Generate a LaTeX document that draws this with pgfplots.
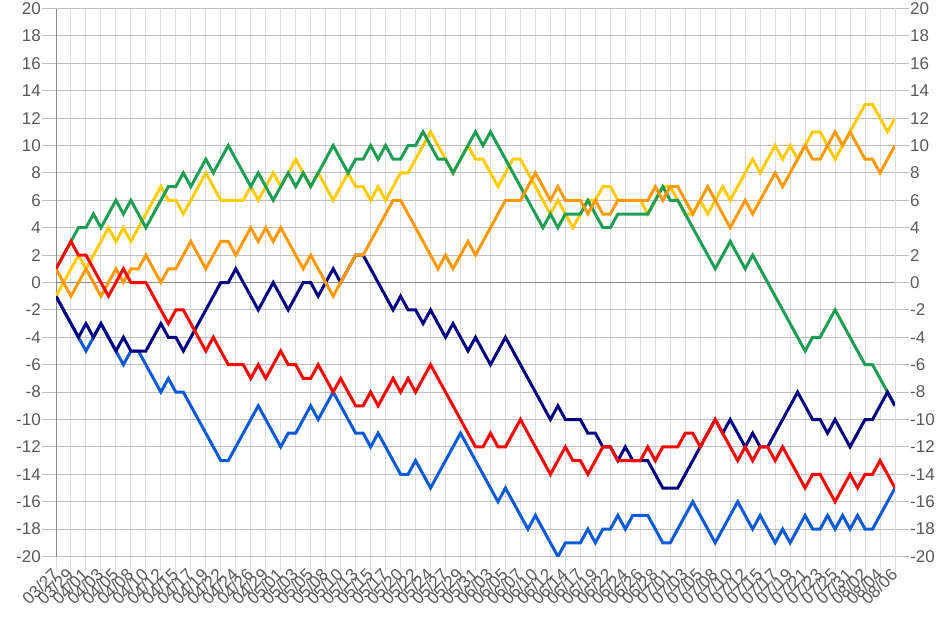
\documentclass[border=0pt]{standalone}
\usepackage{pgfplots}
\pgfplotsset{compat=1.18}
\usepackage{pgfplotstable}
\usepackage{fontspec}
\setmainfont{Liberation Sans}
\definecolor{cnavy}{HTML}{000080}
\definecolor{cred}{HTML}{FF0000}
\definecolor{cblue}{HTML}{0A5AD8}
\definecolor{cyellow}{HTML}{FFCC00}
\definecolor{corange}{HTML}{FF9900}
\definecolor{cgreen}{HTML}{1E9E55}
\definecolor{labgray}{HTML}{595959}
\definecolor{hgrid}{HTML}{BFBFBF}
\definecolor{vgrid}{HTML}{DDDDDD}
\definecolor{zgrid}{HTML}{8C8C8C}

\pgfplotstableread{
i navy red blue yellow orange green
0 -1 1 -1 -1 1 1
1 -2 2 -2 0 0 2
2 -3 3 -3 1 -1 3
3 -4 2 -4 2 0 4
4 -3 2 -5 1 1 4
5 -4 1 -4 2 0 5
6 -3 0 -3 3 -1 4
7 -4 -1 -4 4 0 5
8 -5 0 -5 3 1 6
9 -4 1 -6 4 0 5
10 -5 0 -5 3 1 6
11 -5 0 -5 4 1 5
12 -5 0 -6 5 2 4
13 -4 -1 -7 6 1 5
14 -3 -2 -8 7 0 6
15 -4 -3 -7 6 1 7
16 -4 -2 -8 6 1 7
17 -5 -2 -8 5 2 8
18 -4 -3 -9 6 3 7
19 -3 -4 -10 7 2 8
20 -2 -5 -11 8 1 9
21 -1 -4 -12 7 2 8
22 0 -5 -13 6 3 9
23 0 -6 -13 6 3 10
24 1 -6 -12 6 2 9
25 0 -6 -11 6 3 8
26 -1 -7 -10 7 4 7
27 -2 -6 -9 6 3 8
28 -1 -7 -10 7 4 7
29 0 -6 -11 8 3 6
30 -1 -5 -12 7 4 7
31 -2 -6 -11 8 3 8
32 -1 -6 -11 9 2 7
33 0 -7 -10 8 1 8
34 0 -7 -9 7 2 7
35 -1 -6 -10 8 1 8
36 0 -7 -9 7 0 9
37 1 -8 -8 6 -1 10
38 0 -7 -9 7 0 9
39 1 -8 -10 8 1 8
40 2 -9 -11 7 2 9
41 2 -9 -11 7 2 9
42 1 -8 -12 6 3 10
43 0 -9 -11 7 4 9
44 -1 -8 -12 6 5 10
45 -2 -7 -13 7 6 9
46 -1 -8 -14 8 6 9
47 -2 -7 -14 8 5 10
48 -2 -8 -13 9 4 10
49 -3 -7 -14 10 3 11
50 -2 -6 -15 11 2 10
51 -3 -7 -14 10 1 9
52 -4 -8 -13 9 2 9
53 -3 -9 -12 8 1 8
54 -4 -10 -11 9 2 9
55 -5 -11 -12 10 3 10
56 -4 -12 -13 9 2 11
57 -5 -12 -14 9 3 10
58 -6 -11 -15 8 4 11
59 -5 -12 -16 7 5 10
60 -4 -12 -15 8 6 9
61 -5 -11 -16 9 6 8
62 -6 -10 -17 9 6 7
63 -7 -11 -18 8 7 6
64 -8 -12 -17 7 8 5
65 -9 -13 -18 6 7 4
66 -10 -14 -19 5 6 5
67 -9 -13 -20 6 7 4
68 -10 -12 -19 5 6 5
69 -10 -13 -19 4 6 5
70 -10 -13 -19 5 6 5
71 -11 -14 -18 6 5 6
72 -11 -13 -19 6 6 5
73 -12 -12 -18 7 5 4
74 -12 -12 -18 7 5 4
75 -13 -13 -17 6 6 5
76 -12 -13 -18 6 6 5
77 -13 -13 -17 6 6 5
78 -13 -13 -17 6 6 5
79 -13 -12 -17 5 6 5
80 -14 -13 -18 6 7 6
81 -15 -12 -19 7 6 7
82 -15 -12 -19 7 7 6
83 -15 -12 -18 6 7 6
84 -14 -11 -17 5 6 5
85 -13 -11 -16 5 5 4
86 -12 -12 -17 6 6 3
87 -11 -11 -18 5 7 2
88 -10 -10 -19 6 6 1
89 -11 -11 -18 7 5 2
90 -10 -12 -17 6 4 3
91 -11 -13 -16 7 5 2
92 -12 -12 -17 8 6 1
93 -11 -13 -18 9 5 2
94 -12 -12 -17 8 6 1
95 -12 -12 -18 9 7 0
96 -11 -13 -19 10 8 -1
97 -10 -12 -18 9 7 -2
98 -9 -13 -19 10 8 -3
99 -8 -14 -18 9 9 -4
100 -9 -15 -17 10 10 -5
101 -10 -14 -18 11 9 -4
102 -10 -14 -18 11 9 -4
103 -11 -15 -17 10 10 -3
104 -10 -16 -18 9 11 -2
105 -11 -15 -17 10 10 -3
106 -12 -14 -18 11 11 -4
107 -11 -15 -17 12 10 -5
108 -10 -14 -18 13 9 -6
109 -10 -14 -18 13 9 -6
110 -9 -13 -17 12 8 -7
111 -8 -14 -16 11 9 -8
112 -9 -15 -15 12 10 -9
}\data

\begin{document}
\begin{tikzpicture}
\useasboundingbox (-56pt,-76.5pt) rectangle (895pt,556.5pt);
\begin{axis}[
  scale only axis, width=839pt, height=548pt,
  xmin=0, xmax=112, ymin=-20, ymax=20,
  axis x line*=bottom, axis y line*=left,
  xtick={0,2,...,112},
  xticklabels={03/27,03/29,04/01,04/03,04/05,04/08,04/10,04/12,04/15,04/17,04/19,04/22,04/24,04/26,04/29,05/01,05/03,05/05,05/08,05/10,05/13,05/15,05/17,05/20,05/22,05/24,05/27,05/29,05/31,06/03,06/05,06/07,06/10,06/12,06/14,06/17,06/19,06/22,06/24,06/26,06/28,07/01,07/03,07/05,07/08,07/10,07/12,07/15,07/17,07/19,07/21,07/23,07/25,07/31,08/02,08/04,08/06},
  ytick={-20,-18,...,20},
  xmajorgrids, ymajorgrids,
  every axis x grid/.append style={vgrid, line width=1pt},
  every axis y grid/.append style={hgrid, line width=1pt},
  tick align=outside,
  major tick length=14pt,
  xtick style={vgrid, line width=1pt},
  ytick style={hgrid, line width=1pt},
  x axis line style={hgrid, line width=1pt},
  y axis line style={zgrid, line width=1pt},
  ticklabel style={font=\fontsize{17}{20}\selectfont, text=labgray},
  xticklabel style={rotate=45, anchor=east, inner sep=1pt},
  yticklabel style={inner sep=1pt},
  /pgf/number format/assume math mode=true,
  every axis plot/.append style={line width=3pt},
]
\addplot[zgrid, line width=1pt, forget plot] coordinates {(0,0) (112,0)};
\addplot[cblue] table[x=i, y=blue] {\data};
\addplot[cyellow] table[x=i, y=yellow] {\data};
\addplot[cgreen] table[x=i, y=green] {\data};
\addplot[cnavy] table[x=i, y=navy] {\data};
\addplot[corange] table[x=i, y=orange] {\data};
\addplot[cred] table[x=i, y=red] {\data};
\end{axis}
\begin{axis}[
  scale only axis, width=839pt, height=548pt,
  xmin=0, xmax=112, ymin=-20, ymax=20,
  axis y line*=right, axis x line=none,
  ytick={-20,-18,...,20},
  tick align=outside,
  major tick length=14pt,
  ytick style={hgrid, line width=1pt},
  y axis line style={vgrid, line width=1pt},
  ticklabel style={font=\fontsize{17}{20}\selectfont, text=labgray},
  yticklabel style={inner sep=1pt},
  /pgf/number format/assume math mode=true,
]
\addplot[draw=none] coordinates {(0,0) (112,0)};
\end{axis}
\end{tikzpicture}
\end{document}
